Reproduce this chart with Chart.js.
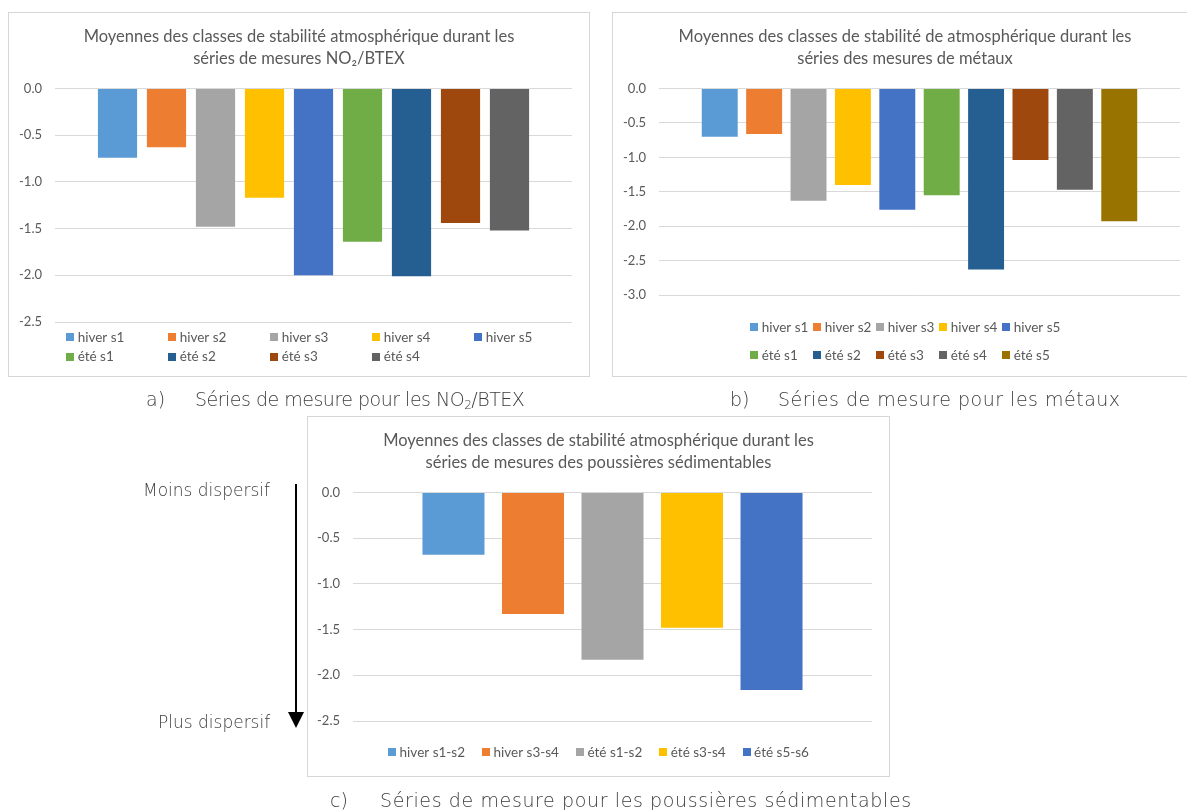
<!DOCTYPE html>
<html lang="fr">
<head>
<meta charset="utf-8">
<script src="https://cdn.jsdelivr.net/npm/chart.js@4/dist/chart.umd.min.js"></script>
<style>
  body { margin: 0; background: #fff; }
  #page { position: relative; width: 1187px; height: 810px; overflow: hidden; }
  .frame { position: absolute; border: 1px solid #d6d6d6; background: #fff; }
  .frame canvas { display: block; }
  .txt { position: absolute; font-family: "DejaVu Sans", sans-serif; font-weight: 200;
         color: #3c3c3c; white-space: nowrap; will-change: transform; }
  .cap { font-size: 19px; line-height: 22px; }
  .cap sub { font-size: 12px; vertical-align: -3px; line-height: 0; }
  .side { font-size: 17px; line-height: 20px; }
</style>
</head>
<body>
<div id="page">
  <div class="frame" style="left:8px;top:12px;width:580px;height:363px"><canvas id="chartA" width="580" height="363"></canvas></div>
  <div class="frame" style="left:612px;top:12px;width:584px;height:363px"><canvas id="chartB" width="584" height="363"></canvas></div>
  <div class="frame" style="left:307px;top:416px;width:581px;height:359px"><canvas id="chartC" width="581" height="359"></canvas></div>

  <div class="txt cap" style="left:146px;top:388px">a)</div>
  <div class="txt cap" style="left:195px;top:388px;letter-spacing:-0.5px">Séries de mesure pour les NO<sub>2</sub>/BTEX</div>
  <div class="txt cap" style="left:730px;top:388px">b)</div>
  <div class="txt cap" style="left:778px;top:388px;letter-spacing:0.5px">Séries de mesure pour les métaux</div>
  <div class="txt cap" style="left:330px;top:789px">c)</div>
  <div class="txt cap" style="left:380px;top:789px;letter-spacing:0.62px">Séries de mesure pour les poussières sédimentables</div>

  <div class="txt side" style="left:143px;top:480px">Moins dispersif</div>
  <div class="txt side" style="left:158px;top:712px">Plus dispersif</div>
  <svg style="position:absolute;left:0;top:0" width="1187" height="810">
    <line x1="296" y1="484" x2="296" y2="714" stroke="#000" stroke-width="2"/>
    <polygon points="288,712 304,712 296,728" fill="#000"/>
  </svg>
</div>

<script>
// series names, colours and mean stability classes
const seriesA = ['hiver s1', 'hiver s2', 'hiver s3', 'hiver s4', 'hiver s5', 'été s1', 'été s2', 'été s3', 'été s4'];
const valuesA = [-0.74, -0.63, -1.48, -1.17, -2.00, -1.64, -2.01, -1.44, -1.52];

const seriesB = ['hiver s1', 'hiver s2', 'hiver s3', 'hiver s4', 'hiver s5', 'été s1', 'été s2', 'été s3', 'été s4', 'été s5'];
const valuesB = [-0.70, -0.66, -1.63, -1.40, -1.76, -1.55, -2.63, -1.04, -1.47, -1.93];

const seriesC = ['hiver s1-s2', 'hiver s3-s4', 'été s1-s2', 'été s3-s4', 'été s5-s6'];
const valuesC = [-0.68, -1.33, -1.83, -1.48, -2.16];

const palette = ['#5B9BD5', '#ED7D31', '#A5A5A5', '#FFC000', '#4472C4', '#70AD47', '#255E91', '#9E480E', '#636363', '#997300'];

const ticksA = { min: -2.5, max: 0, step: 0.5 };
const ticksB = { min: -3.0, max: 0, step: 0.5 };
const ticksC = { min: -2.5, max: 0, step: 0.5 };

const grey = '#595959';
const FONT = 'Lato, "Open Sans", sans-serif';

// legend drawn under the plot: either a fixed grid or a centred row
const boxLegend = {
  id: 'boxLegend',
  afterDraw(chart, args, opts) {
    const ctx = chart.ctx;
    const area = chart.chartArea;
    const items = chart.data.datasets.map(ds => ({ text: ds.label, color: ds.backgroundColor }));
    ctx.save();
    ctx.font = opts.fontSize + 'px ' + FONT;
    ctx.textBaseline = 'middle';
    ctx.textAlign = 'left';
    const box = 8, gap = opts.textGap;
    const widths = items.map(it => box + gap + ctx.measureText(it.text).width);
    const cx = chart.width / 2;
    const place = [];
    if (opts.mode === 'grid') {
      const widest = Math.max(...widths);
      const total = (opts.cols - 1) * opts.colWidth + widest;
      const x0 = cx - total / 2;
      items.forEach((it, i) => {
        place.push({ x: x0 + (i % opts.cols) * opts.colWidth, y: area.bottom + opts.offset + Math.floor(i / opts.cols) * opts.rowGap });
      });
    } else {
      const total = widths.reduce((s, w) => s + w, 0) + opts.spacing * (items.length - 1);
      let x = cx - total / 2;
      items.forEach((it, i) => {
        place.push({ x: x, y: area.bottom + opts.offset });
        x += widths[i] + opts.spacing;
      });
    }
    items.forEach((it, i) => {
      const p = place[i];
      ctx.fillStyle = it.color;
      ctx.fillRect(Math.round(p.x), Math.round(p.y - box / 2), box, box);
      ctx.fillStyle = grey;
      ctx.fillText(it.text, p.x + box + gap, p.y + 0.5);
    });
    ctx.restore();
  }
};

function makeChart(id, names, values, range, title, bottomPad, axisWidth, barPct, catPct, legendOpts) {
  const datasets = names.map((name, i) => ({
    label: name,
    data: [values[i]],
    backgroundColor: palette[i],
    borderWidth: 0,
    barPercentage: barPct,
    categoryPercentage: catPct
  }));
  return new Chart(document.getElementById(id), {
    type: 'bar',
    data: { labels: [''], datasets: datasets },
    plugins: [boxLegend],
    options: {
      responsive: false,
      animation: false,
      devicePixelRatio: 1,
      layout: { padding: { left: 0, right: 0, top: 0, bottom: bottomPad } },
      scales: {
        x: { display: false },
        y: {
          min: range.min,
          max: range.max,
          ticks: {
            stepSize: range.step,
            color: grey,
            padding: 13,
            font: { family: FONT, size: 13 },
            callback: v => v.toFixed(1)
          },
          grid: { color: '#d9d9d9', drawTicks: false },
          border: { display: false },
          afterFit(scale) { scale.width = axisWidth; }
        },
        // empty right-hand margin so the plot and title stay centred
        yr: {
          position: 'right',
          ticks: { display: false },
          grid: { display: false },
          border: { display: false },
          afterFit(scale) { scale.width = 17; }
        }
      },
      plugins: {
        legend: { display: false },
        tooltip: { enabled: false },
        title: {
          display: true,
          text: title,
          color: grey,
          font: { family: FONT, size: 16.5, weight: 'normal', lineHeight: 1.31 },
          padding: { top: 13, bottom: 19.3 }
        },
        boxLegend: legendOpts
      }
    }
  });
}

const chartA = makeChart('chartA', seriesA, valuesA, ticksA,
  ['Moyennes des classes de stabilité atmosphérique durant les', 'séries de mesures NO₂/BTEX'],
  54, 46, 0.8, 0.853,
  { mode: 'grid', cols: 5, colWidth: 102, offset: 15, rowGap: 19.5, fontSize: 13.5, textGap: 4 });

const chartB = makeChart('chartB', seriesB, valuesB, ticksB,
  ['Moyennes des classes de stabilité de atmosphérique durant les', 'séries des mesures de métaux'],
  81, 46, 0.81, 0.852,
  { mode: 'grid', cols: 5, colWidth: 63, offset: 32, rowGap: 28.3, fontSize: 13.5, textGap: 4 });

const chartC = makeChart('chartC', seriesC, valuesC, ticksC,
  ['Moyennes des classes de stabilité atmosphérique durant les', 'séries de mesures des poussières sédimentables'],
  55, 45, 0.78, 0.766,
  { mode: 'row', spacing: 17, offset: 31, fontSize: 13.5, textGap: 3.5 });
</script>
</body>
</html>
